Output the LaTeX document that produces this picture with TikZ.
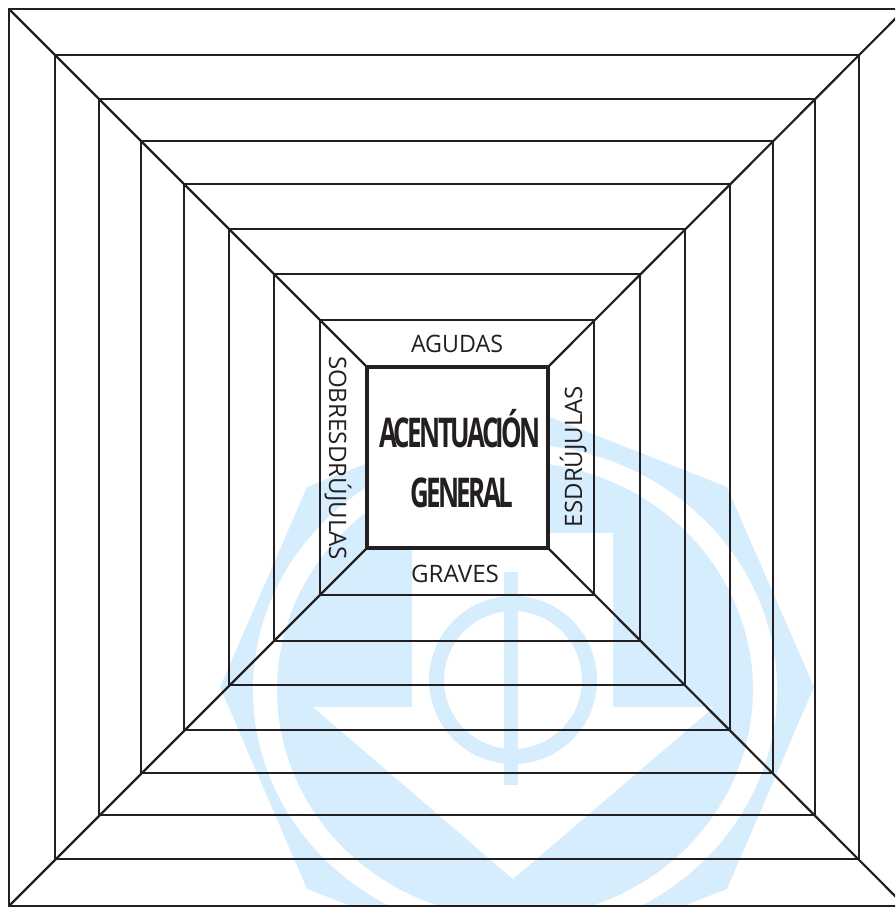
\documentclass[tikz,border=0pt]{standalone}
\usepackage{graphicx}
\usepackage{fontspec}
\setmainfont{Open Sans}
\definecolor{wm}{HTML}{D6EDFD}
\definecolor{ink}{HTML}{231F20}
\newcommand{\fitw}[2]{\resizebox{#1pt}{\height}{#2}}
\tikzset{
  frameline/.style={draw=ink,line width=2.2pt,line join=miter},
  corebox/.style={draw=ink,line width=3.2pt,line join=miter,fill=white},
  cornerline/.style={draw=ink,line width=2.2pt},
  plainlabel/.style={text=ink,inner sep=0pt,anchor=base,font=\fontsize{24}{24}\selectfont},
  titlelabel/.style={text=ink,inner sep=0pt,anchor=base,font=\fontsize{41}{41}\selectfont\bfseries\addfontfeatures{LetterSpace=-10}}
}
\begin{document}
\begin{tikzpicture}[x=1pt,y=1pt]
\useasboundingbox (0,0) rectangle (895,-907);
\clip (0,0) rectangle (895,-907);
% watermark
\fill[wm] (517,-404)--(727,-487)--(814,-687)--(727,-889)--(517,-970)--(307,-889)--(220,-687)--(307,-487)--cycle;
\fill[white,even odd rule] (515,-690) ellipse [x radius=262,y radius=246] (515,-690) ellipse [x radius=238,y radius=228];
\fill[white] (313,-707)--(412,-707)--(412,-533)--(613,-533)--(613,-707)--(714,-707)--(513,-879)--cycle;
\fill[wm,even odd rule] (513,-680) circle (84) (513,-680) circle (69);
\fill[wm] (504,-572) rectangle (518,-785);
% squares
\foreach \n/\l/\r/\t/\b in {0/9/905/9/906,1/55/859/55/859,2/99/815/99/815,3/141/773/141/773,4/184/730/184/730,5/229/685/229/685,6/274/640/274/641,7/320/594/320/595,8/367/548/367/548}{
  \coordinate (tl\n) at (\l,-\t);
  \coordinate (tr\n) at (\r,-\t);
  \coordinate (br\n) at (\r,-\b);
  \coordinate (bl\n) at (\l,-\b);
}
\foreach \n in {0,...,7}{
  \draw[frameline] (tl\n)--(tr\n)--(br\n)--(bl\n)--cycle;
}
\draw[cornerline] (tl0)--(tl8);
\draw[cornerline] (tr0)--(tr8);
\draw[cornerline] (br0)--(br8);
\draw[cornerline] (bl0)--(bl8);
\draw[corebox] (tl8)--(tr8)--(br8)--(bl8)--cycle;
% labels
\node[plainlabel] (agudas) at (457,-352) {\fitw{92}{AGUDAS}};
\node[plainlabel] (graves) at (455,-582) {\fitw{88}{GRAVES}};
\node[plainlabel,rotate=-90] (sobre) at (329,-458) {\fitw{204}{SOBRESDRÚJULAS}};
\node[plainlabel,rotate=90] (esdr) at (582,-456.5) {\fitw{141}{ESDRÚJULAS}};
\node[titlelabel] (titleA) at (460,-447) {\fitw{162}{ACENTUACIÓN}};
\node[titlelabel] (titleB) at (461.5,-507) {\fitw{103}{GENERAL}};
\end{tikzpicture}
\end{document}
